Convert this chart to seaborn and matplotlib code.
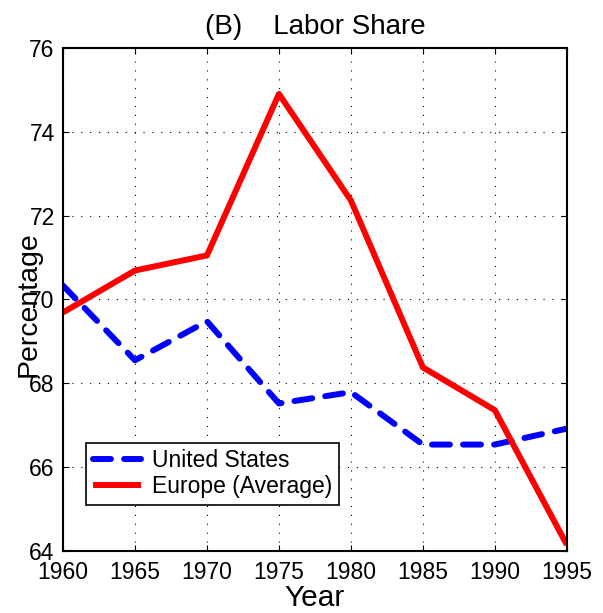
import numpy as np
import pandas as pd
import matplotlib.pyplot as plt
import seaborn as sns

sns.set_style("ticks")
plt.rcParams['font.family'] = ['Liberation Sans', 'DejaVu Sans']
plt.rcParams.update({'text.color': 'black', 'axes.labelcolor': 'black',
                     'xtick.color': 'black', 'ytick.color': 'black'})

years = [1960, 1965, 1970, 1975, 1980, 1985, 1990, 1995]
us = [70.33, 68.55, 69.48, 67.52, 67.79, 66.54, 66.54, 66.92]
europe = [69.69, 70.69, 71.05, 74.9, 72.36, 68.38, 67.36, 64.15]

df = pd.DataFrame({
    'Year': years * 2,
    'Percentage': us + europe,
    'Region': ['United States'] * len(years) + ['Europe (Average)'] * len(years),
})

fig = plt.figure(figsize=(6.03, 6.13), dpi=100)
ax = fig.add_axes([0.1045, 0.101, 0.8355, 0.821])

sns.lineplot(data=df, x='Year', y='Percentage', hue='Region', style='Region',
             palette={'United States': '#0000ff', 'Europe (Average)': '#ff0000'},
             dashes={'United States': (3, 2.2), 'Europe (Average)': ''},
             linewidth=4.3, ax=ax)
for ln in ax.get_lines():
    ln.set_dash_capstyle('round')
    ln.set_solid_capstyle('butt')

ax.set_xlim(1960, 1995)
ax.set_ylim(64, 76)
ax.set_xticks(years)
ax.set_yticks(range(64, 77, 2))
ax.grid(True, color='black', linestyle=(0, (1, 7)), linewidth=0.8)
ax.tick_params(direction='in', top=True, right=True, labelsize=16.5, length=4)
ax.tick_params(axis='x', pad=7)
ax.tick_params(axis='y', pad=6)
for s in ax.spines.values():
    s.set_linewidth(1.5)
    s.set_color('black')

ax.set_title('(B)    Labor Share', fontsize=20, pad=10)
ax.set_xlabel('Year', fontsize=21.5)
ax.set_ylabel('Percentage', fontsize=20.5)
ax.xaxis.set_label_coords(0.5, -0.066)
ax.yaxis.set_label_coords(-0.042, 0.49)

leg = ax.legend(loc='lower left', bbox_to_anchor=(0.046, 0.092), fontsize=16.5,
                frameon=True, fancybox=False, edgecolor='black', framealpha=1,
                borderpad=0.28, labelspacing=0.15, handlelength=2.1,
                handletextpad=0.5, borderaxespad=0)
leg.get_frame().set_linewidth(1.2)

fig.savefig('out.png', dpi=100)
